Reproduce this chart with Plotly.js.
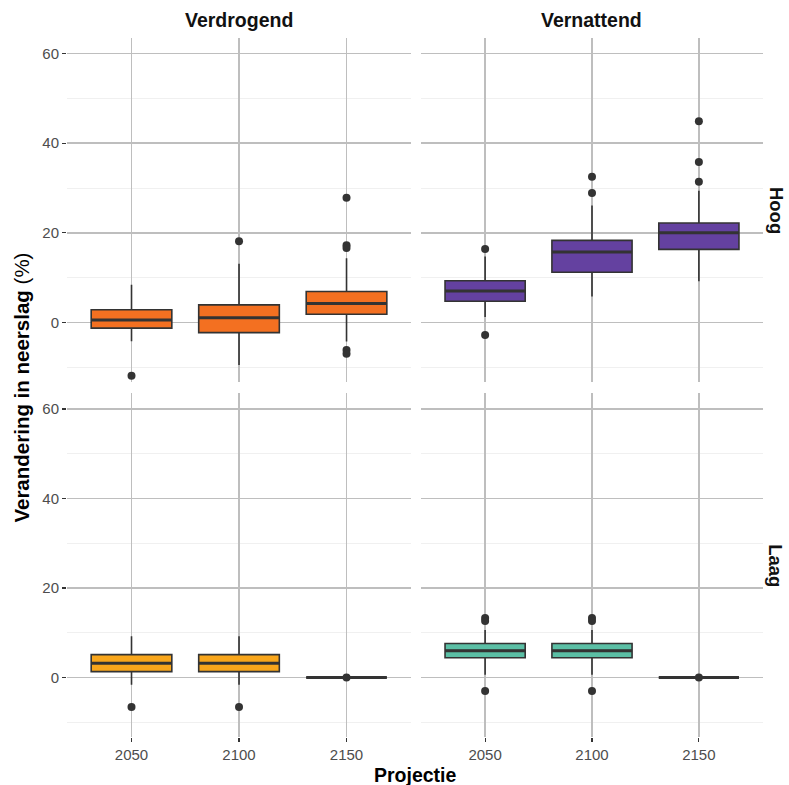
<!DOCTYPE html>
<html>
<head>
<meta charset="utf-8">
<script src="https://cdn.plot.ly/plotly-3.0.1.min.js"></script>
<style>
  html, body { margin: 0; padding: 0; background: #ffffff; }
  #chart { width: 789px; height: 785px; }
</style>
</head>
<body>
<div id="chart"></div>
<script>
// Projection years (x categories)
const years = ['2050', '2100', '2150'];

// Verdrogend / Hoog
const vdHoogLower  = [-4.2, -9.5, -4.3];
const vdHoogQ1     = [-1.3, -2.3, 1.8];
const vdHoogMedian = [0.5, 1.0, 4.2];
const vdHoogQ3     = [2.8, 3.9, 6.9];
const vdHoogUpper  = [8.4, 13.1, 14.3];
const vdHoogOutX   = ['2050', '2100', '2150', '2150', '2150', '2150', '2150'];
const vdHoogOutY   = [-11.9, 18.1, 27.8, 17.2, 16.6, -6.2, -7.0];

// Vernattend / Hoog
const vnHoogLower  = [1.2, 5.8, 9.2];
const vnHoogQ1     = [4.7, 11.2, 16.3];
const vnHoogMedian = [7.0, 15.7, 20.0];
const vnHoogQ3     = [9.3, 18.3, 22.2];
const vnHoogUpper  = [14.7, 26.1, 29.4];
const vnHoogOutX   = ['2050', '2050', '2100', '2100', '2150', '2150', '2150'];
const vnHoogOutY   = [16.4, -2.8, 32.5, 28.9, 44.9, 35.8, 31.4];

// Verdrogend / Laag
const vdLaagLower  = [-1.6, -1.6, 0];
const vdLaagQ1     = [1.3, 1.3, 0];
const vdLaagMedian = [3.2, 3.2, 0];
const vdLaagQ3     = [5.1, 5.1, 0];
const vdLaagUpper  = [9.2, 9.2, 0];
const vdLaagOutX   = ['2050', '2100', '2150'];
const vdLaagOutY   = [-6.6, -6.6, 0];

// Vernattend / Laag
const vnLaagLower  = [0.6, 0.6, 0];
const vnLaagQ1     = [4.4, 4.4, 0];
const vnLaagMedian = [6.0, 6.0, 0];
const vnLaagQ3     = [7.6, 7.6, 0];
const vnLaagUpper  = [10.6, 10.6, 0];
const vnLaagOutX   = ['2050', '2050', '2050', '2100', '2100', '2100', '2150'];
const vnLaagOutY   = [13.3, 12.6, -3.0, 13.3, 12.6, -3.0, 0];

const colLabels = ['Verdrogend', 'Vernattend'];
const rowLabels = ['Hoog', 'Laag'];

const INK = '#333333';
const BOX_WIDTH = 0.75;
const FONT = 'Liberation Sans, Arial, sans-serif';

const panels = [
  { ax: '',  lower: vdHoogLower, q1: vdHoogQ1, med: vdHoogMedian, q3: vdHoogQ3, upper: vdHoogUpper,
    ox: vdHoogOutX, oy: vdHoogOutY, fill: '#F37021' },
  { ax: '2', lower: vnHoogLower, q1: vnHoogQ1, med: vnHoogMedian, q3: vnHoogQ3, upper: vnHoogUpper,
    ox: vnHoogOutX, oy: vnHoogOutY, fill: '#6441A0' },
  { ax: '3', lower: vdLaagLower, q1: vdLaagQ1, med: vdLaagMedian, q3: vdLaagQ3, upper: vdLaagUpper,
    ox: vdLaagOutX, oy: vdLaagOutY, fill: '#F9A61B' },
  { ax: '4', lower: vnLaagLower, q1: vnLaagQ1, med: vnLaagMedian, q3: vnLaagQ3, upper: vnLaagUpper,
    ox: vnLaagOutX, oy: vnLaagOutY, fill: '#5BBFA5' }
];

const traces = [];
const shapes = [];
panels.forEach(p => {
  traces.push({
    type: 'box',
    x: years,
    lowerfence: p.lower, q1: p.q1, median: p.med, q3: p.q3, upperfence: p.upper,
    width: BOX_WIDTH,
    whiskerwidth: 0,
    fillcolor: p.fill,
    line: { color: INK, width: 1.6 },
    boxpoints: false,
    hoverinfo: 'skip',
    xaxis: 'x' + p.ax, yaxis: 'y' + p.ax,
    showlegend: false
  });
  traces.push({
    type: 'scatter', mode: 'markers',
    x: p.ox, y: p.oy,
    marker: { color: INK, size: 8 },
    hoverinfo: 'skip',
    xaxis: 'x' + p.ax, yaxis: 'y' + p.ax,
    showlegend: false
  });
  // thicker median bar, as in ggplot's fattened median
  p.med.forEach((m, i) => {
    shapes.push({
      type: 'line', xref: 'x' + p.ax, yref: 'y' + p.ax,
      x0: i - BOX_WIDTH / 2, x1: i + BOX_WIDTH / 2, y0: m, y1: m,
      line: { color: INK, width: 3 }
    });
  });
});

const GRID = '#BEBEBE';
const TICKFONT = { family: FONT, size: 15, color: '#4D4D4D' };
const Y_RANGE = [-13.3, 63.5];

function xAxis(domain, anchor, bottom) {
  return {
    domain: domain, anchor: anchor,
    type: 'category', categoryorder: 'array', categoryarray: years,
    range: [-0.6, 2.6],
    showgrid: true, gridcolor: GRID, gridwidth: 1.6,
    zeroline: false, showline: false,
    showticklabels: bottom,
    ticks: bottom ? 'outside' : '', ticklen: 4, tickwidth: 1.2, tickcolor: INK,
    tickfont: TICKFONT, fixedrange: true
  };
}
function yAxis(domain, anchor, left) {
  return {
    domain: domain, anchor: anchor,
    range: Y_RANGE,
    tickvals: [0, 20, 40, 60],
    showgrid: true, gridcolor: GRID, gridwidth: 1.6,
    minor: { tick0: -10, dtick: 20, showgrid: true, gridcolor: '#F0F0F0', gridwidth: 1, ticks: '' },
    zeroline: false, showline: false,
    showticklabels: left,
    ticks: left ? 'outside' : '', ticklen: 4, tickwidth: 1.2, tickcolor: INK,
    tickfont: TICKFONT, fixedrange: true
  };
}

const leftDom = [0, 0.4943];
const rightDom = [0.5086, 1];
const topDom = [0.508, 1];
const botDom = [0, 0.4917];

const stripFont = { family: FONT, size: 19.5, color: '#111111' };
const rowStripFont = { family: FONT, size: 18.5, color: '#111111' };
const titleFont = { family: FONT, size: 19.5, color: '#000000' };

const layout = {
  width: 789, height: 785,
  margin: { l: 67, r: 26, t: 38, b: 48 },
  paper_bgcolor: '#ffffff', plot_bgcolor: '#ffffff',
  showlegend: false,
  xaxis:  xAxis(leftDom, 'y', false),
  xaxis2: xAxis(rightDom, 'y2', false),
  xaxis3: xAxis(leftDom, 'y3', true),
  xaxis4: xAxis(rightDom, 'y4', true),
  yaxis:  yAxis(topDom, 'x', true),
  yaxis2: yAxis(topDom, 'x2', false),
  yaxis3: yAxis(botDom, 'x3', true),
  yaxis4: yAxis(botDom, 'x4', false),
  shapes: shapes,
  annotations: [
    { text: '<b>' + colLabels[0] + '</b>', xref: 'paper', yref: 'paper',
      x: (leftDom[0] + leftDom[1]) / 2, y: 1.026, xanchor: 'center', yanchor: 'middle',
      showarrow: false, font: stripFont },
    { text: '<b>' + colLabels[1] + '</b>', xref: 'paper', yref: 'paper',
      x: (rightDom[0] + rightDom[1]) / 2, y: 1.026, xanchor: 'center', yanchor: 'middle',
      showarrow: false, font: stripFont },
    { text: '<b>' + rowLabels[0] + '</b>', xref: 'paper', yref: 'paper',
      x: 1.0187, y: (topDom[0] + topDom[1]) / 2, xanchor: 'center', yanchor: 'middle',
      textangle: 90, showarrow: false, font: rowStripFont },
    { text: '<b>' + rowLabels[1] + '</b>', xref: 'paper', yref: 'paper',
      x: 1.0187, y: (botDom[0] + botDom[1]) / 2, xanchor: 'center', yanchor: 'middle',
      textangle: 90, showarrow: false, font: rowStripFont },
    { text: '<b>Projectie</b>', xref: 'paper', yref: 'paper',
      x: 0.5, y: -0.055, xanchor: 'center', yanchor: 'middle',
      showarrow: false, font: titleFont },
    { text: '<b>Verandering in neerslag</b> (%)', xref: 'paper', yref: 'paper',
      x: -0.066, y: 0.5, xanchor: 'center', yanchor: 'middle', textangle: -90,
      showarrow: false, font: { family: FONT, size: 20.5, color: '#000000' } }
  ]
};

Plotly.newPlot('chart', traces, layout, { displayModeBar: false, staticPlot: true });
</script>
</body>
</html>
